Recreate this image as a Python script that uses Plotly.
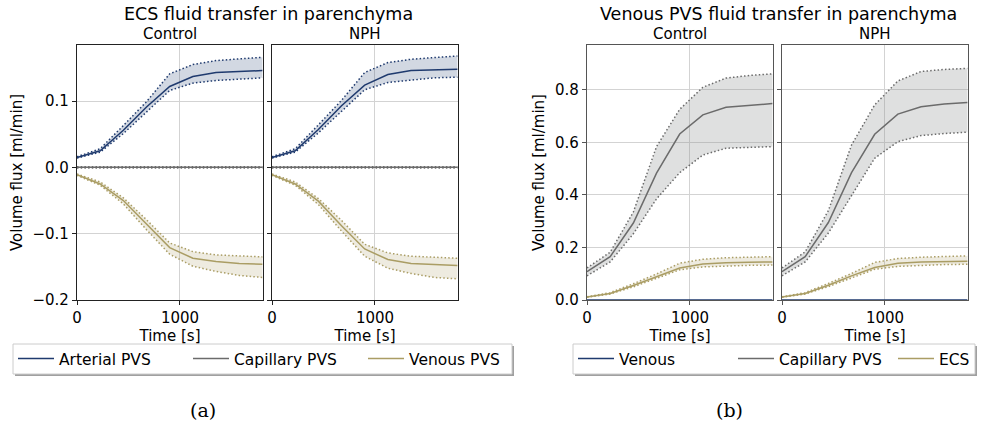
import plotly.graph_objects as go

# ---------------- data ----------------
time_s = [0, 225, 450, 675, 900, 1125, 1350, 1575, 1800]

# (a) ECS fluid transfer in parenchyma
a_ctrl_art_mean = [0.015, 0.025, 0.056, 0.091, 0.122, 0.137, 0.143, 0.145, 0.146]
a_ctrl_art_up   = [0.016, 0.028, 0.063, 0.099, 0.141, 0.155, 0.161, 0.164, 0.166]
a_ctrl_art_lo   = [0.014, 0.023, 0.051, 0.083, 0.116, 0.127, 0.131, 0.133, 0.135]
a_ctrl_cap_mean = [0.0, 0.0, 0.0, 0.0, 0.0, 0.0, 0.0, 0.0, 0.0]
a_ctrl_cap_up   = [0.001, 0.001, 0.001, 0.001, 0.001, 0.001, 0.001, 0.001, 0.001]
a_ctrl_cap_lo   = [-0.001, -0.001, -0.001, -0.001, -0.001, -0.001, -0.001, -0.001, -0.001]
a_ctrl_ven_mean = [-0.011, -0.025, -0.050, -0.086, -0.121, -0.137, -0.142, -0.145, -0.146]
a_ctrl_ven_up   = [-0.010, -0.022, -0.046, -0.079, -0.114, -0.127, -0.132, -0.134, -0.135]
a_ctrl_ven_lo   = [-0.012, -0.027, -0.055, -0.094, -0.131, -0.149, -0.157, -0.163, -0.166]

a_nph_art_mean = [0.015, 0.025, 0.057, 0.093, 0.124, 0.140, 0.146, 0.147, 0.148]
a_nph_art_up   = [0.016, 0.028, 0.064, 0.101, 0.143, 0.158, 0.163, 0.166, 0.168]
a_nph_art_lo   = [0.014, 0.023, 0.052, 0.085, 0.117, 0.128, 0.132, 0.135, 0.136]
a_nph_cap_mean = [0.0, 0.0, 0.0, 0.0, 0.0, 0.0, 0.0, 0.0, 0.0]
a_nph_cap_up   = [0.001, 0.001, 0.001, 0.001, 0.001, 0.001, 0.001, 0.001, 0.001]
a_nph_cap_lo   = [-0.001, -0.001, -0.001, -0.001, -0.001, -0.001, -0.001, -0.001, -0.001]
a_nph_ven_mean = [-0.011, -0.025, -0.051, -0.088, -0.123, -0.139, -0.145, -0.147, -0.148]
a_nph_ven_up   = [-0.010, -0.022, -0.047, -0.080, -0.116, -0.129, -0.134, -0.136, -0.137]
a_nph_ven_lo   = [-0.012, -0.027, -0.056, -0.096, -0.134, -0.152, -0.160, -0.166, -0.168]

# (b) Venous PVS fluid transfer in parenchyma
b_ctrl_ven_mean = [0.0, 0.0, 0.0, 0.0, 0.0, 0.0, 0.0, 0.0, 0.0]
b_ctrl_cap_mean = [0.108, 0.165, 0.293, 0.483, 0.632, 0.705, 0.734, 0.742, 0.748]
b_ctrl_cap_up   = [0.122, 0.182, 0.335, 0.584, 0.726, 0.810, 0.845, 0.855, 0.861]
b_ctrl_cap_lo   = [0.092, 0.145, 0.252, 0.385, 0.485, 0.552, 0.578, 0.582, 0.584]
b_ctrl_ecs_mean = [0.011, 0.025, 0.055, 0.090, 0.122, 0.137, 0.142, 0.144, 0.145]
b_ctrl_ecs_up   = [0.012, 0.028, 0.062, 0.099, 0.140, 0.155, 0.161, 0.164, 0.165]
b_ctrl_ecs_lo   = [0.010, 0.023, 0.050, 0.082, 0.115, 0.126, 0.130, 0.132, 0.133]

b_nph_ven_mean = [0.0, 0.0, 0.0, 0.0, 0.0, 0.0, 0.0, 0.0, 0.0]
b_nph_cap_mean = [0.108, 0.165, 0.295, 0.485, 0.631, 0.708, 0.736, 0.746, 0.752]
b_nph_cap_up   = [0.122, 0.183, 0.340, 0.590, 0.743, 0.834, 0.870, 0.878, 0.882]
b_nph_cap_lo   = [0.092, 0.145, 0.255, 0.400, 0.540, 0.603, 0.626, 0.634, 0.639]
b_nph_ecs_mean = [0.011, 0.025, 0.056, 0.092, 0.124, 0.140, 0.145, 0.147, 0.148]
b_nph_ecs_up   = [0.012, 0.028, 0.063, 0.101, 0.143, 0.158, 0.163, 0.166, 0.168]
b_nph_ecs_lo   = [0.010, 0.023, 0.051, 0.084, 0.117, 0.128, 0.132, 0.135, 0.136]

legend_a = ["Arterial PVS", "Capillary PVS", "Venous PVS"]
legend_b = ["Venous", "Capillary PVS", "ECS"]

# ---------------- styles ----------------
NAVY, GRAY, TAN = "#1f3a6e", "#6b6b6b", "#aa9d64"
FILL = {NAVY: "rgba(31,58,110,0.2)", GRAY: "rgba(140,145,145,0.28)", TAN: "rgba(170,157,100,0.2)"}
FONT = "DejaVu Sans"
W, H = 981, 428
DOT = "1.5px,2.2px"

def px(x):
    return x / W

def py(y):
    return 1 - y / H

fig = go.Figure()

def add_band(xa, ya, mean, up, lo, color, name, legend, show):
    fig.add_trace(go.Scatter(x=time_s, y=lo, mode="lines", xaxis=xa, yaxis=ya,
                             line=dict(color=color, width=1.5, dash=DOT),
                             showlegend=False, hoverinfo="skip"))
    fig.add_trace(go.Scatter(x=time_s, y=up, mode="lines", xaxis=xa, yaxis=ya,
                             line=dict(color=color, width=1.5, dash=DOT),
                             fill="tonexty", fillcolor=FILL[color],
                             showlegend=False, hoverinfo="skip"))
    fig.add_trace(go.Scatter(x=time_s, y=mean, mode="lines", xaxis=xa, yaxis=ya,
                             line=dict(color=color, width=1.5), name=name,
                             legend=legend, showlegend=show))

# (a)
for xa, ya, data, show in [
    ("x", "y", [(a_ctrl_art_mean, a_ctrl_art_up, a_ctrl_art_lo),
                (a_ctrl_cap_mean, a_ctrl_cap_up, a_ctrl_cap_lo),
                (a_ctrl_ven_mean, a_ctrl_ven_up, a_ctrl_ven_lo)], True),
    ("x2", "y2", [(a_nph_art_mean, a_nph_art_up, a_nph_art_lo),
                  (a_nph_cap_mean, a_nph_cap_up, a_nph_cap_lo),
                  (a_nph_ven_mean, a_nph_ven_up, a_nph_ven_lo)], False)]:
    for (m, u, l), c, n in zip(data, [NAVY, GRAY, TAN], legend_a):
        add_band(xa, ya, m, u, l, c, n, "legend", show)

# (b)
for xa, ya, ven, cap, ecs, show in [
    ("x3", "y3", b_ctrl_ven_mean, (b_ctrl_cap_mean, b_ctrl_cap_up, b_ctrl_cap_lo),
     (b_ctrl_ecs_mean, b_ctrl_ecs_up, b_ctrl_ecs_lo), True),
    ("x4", "y4", b_nph_ven_mean, (b_nph_cap_mean, b_nph_cap_up, b_nph_cap_lo),
     (b_nph_ecs_mean, b_nph_ecs_up, b_nph_ecs_lo), False)]:
    fig.add_trace(go.Scatter(x=time_s, y=ven, mode="lines", xaxis=xa, yaxis=ya,
                             line=dict(color=NAVY, width=1.5), name=legend_b[0],
                             legend="legend2", showlegend=show))
    add_band(xa, ya, *cap, GRAY, legend_b[1], "legend2", show)
    add_band(xa, ya, *ecs, TAN, legend_b[2], "legend2", show)

# ---------------- axes ----------------
ydom = [py(300), py(45)]
xdoms = [[px(77), px(263)], [px(272), px(458)], [px(587), px(773)], [px(782), px(968)]]

layout = dict(width=W, height=H,
              margin=dict(l=0, r=0, t=0, b=0, autoexpand=False),
              paper_bgcolor="white", plot_bgcolor="white",
              font=dict(family=FONT, color="black"))

for i, dom in enumerate(xdoms):
    suf = "" if i == 0 else str(i + 1)
    spine = "#222222" if i < 2 else "#555555"
    axis_common = dict(showline=True, mirror=True, linecolor=spine, linewidth=1.3,
                       showgrid=True, gridcolor="#d3d3d3", gridwidth=1,
                       ticks="outside", ticklen=4, tickcolor=spine,
                       tickfont=dict(family=FONT, size=15, color="black"),
                       zeroline=False)
    layout["xaxis" + suf] = dict(axis_common, domain=dom, range=[0, 1806],
                                 anchor="y" + suf, tickvals=[0, 1000],
                                 ticktext=["0", "1000"],
                                 title=dict(text="Time [s]", font=dict(family=FONT, size=15),
                                            standoff=0))
    if i < 2:
        yr = [-0.2, 0.1845]
        tv = [-0.2, -0.1, 0.0, 0.1]
        tt = ["−0.2", "−0.1", "0.0", "0.1"]
    else:
        yr = [0, 0.971]
        tv = [0.0, 0.2, 0.4, 0.6, 0.8]
        tt = ["0.0", "0.2", "0.4", "0.6", "0.8"]
    ya = dict(axis_common, domain=ydom, range=yr, anchor="x" + suf,
              tickvals=tv, ticktext=tt)
    if i in (1, 3):
        ya["showticklabels"] = False
    else:
        ya["title"] = dict(text="Volume flux [ml/min]", font=dict(family=FONT, size=15),
                           standoff=6)
    layout["yaxis" + suf] = ya

legend_common = dict(orientation="h", bgcolor="rgba(0,0,0,0)", borderwidth=0,
                     font=dict(family=FONT, size=15.5, color="black"),
                     itemwidth=36, xanchor="left", yanchor="middle", tracegroupgap=0,
                     traceorder="normal", entrywidthmode="pixels")
layout["legend"] = dict(legend_common, x=px(13), y=py(359), entrywidth=124)
layout["legend2"] = dict(legend_common, x=px(573), y=py(359), entrywidth=109)

fig.update_layout(**layout)

# legend frames with shadow
for x0, x1 in [(13, 512), (573, 975)]:
    fig.add_shape(type="rect", xref="paper", yref="paper",
                  x0=px(x0 + 2), x1=px(x1 + 2), y0=py(376), y1=py(346),
                  line=dict(width=0), fillcolor="#a0a0a0", layer="below")
    fig.add_shape(type="rect", xref="paper", yref="paper",
                  x0=px(x0), x1=px(x1), y0=py(374), y1=py(344),
                  line=dict(width=1, color="#cccccc"), fillcolor="white", layer="below")

# titles and sub-titles
ann = [
    (268, 14, "ECS fluid transfer in parenchyma", 17.5, FONT),
    (778, 14, "Venous PVS fluid transfer in parenchyma", 17.5, FONT),
    (170, 34, "Control", 15, FONT),
    (365, 34, "NPH", 15, FONT),
    (680, 34, "Control", 15, FONT),
    (875, 34, "NPH", 15, FONT),
    (203, 410, "(a)", 19, "DejaVu Serif"),
    (729, 410, "(b)", 19, "DejaVu Serif"),
]
for x, y, t, s, f in ann:
    fig.add_annotation(x=px(x), y=py(y), xref="paper", yref="paper", text=t,
                       showarrow=False, xanchor="center", yanchor="middle", borderpad=0,
                       font=dict(family=f, size=s, color="black"))

fig.write_html("out.html")
